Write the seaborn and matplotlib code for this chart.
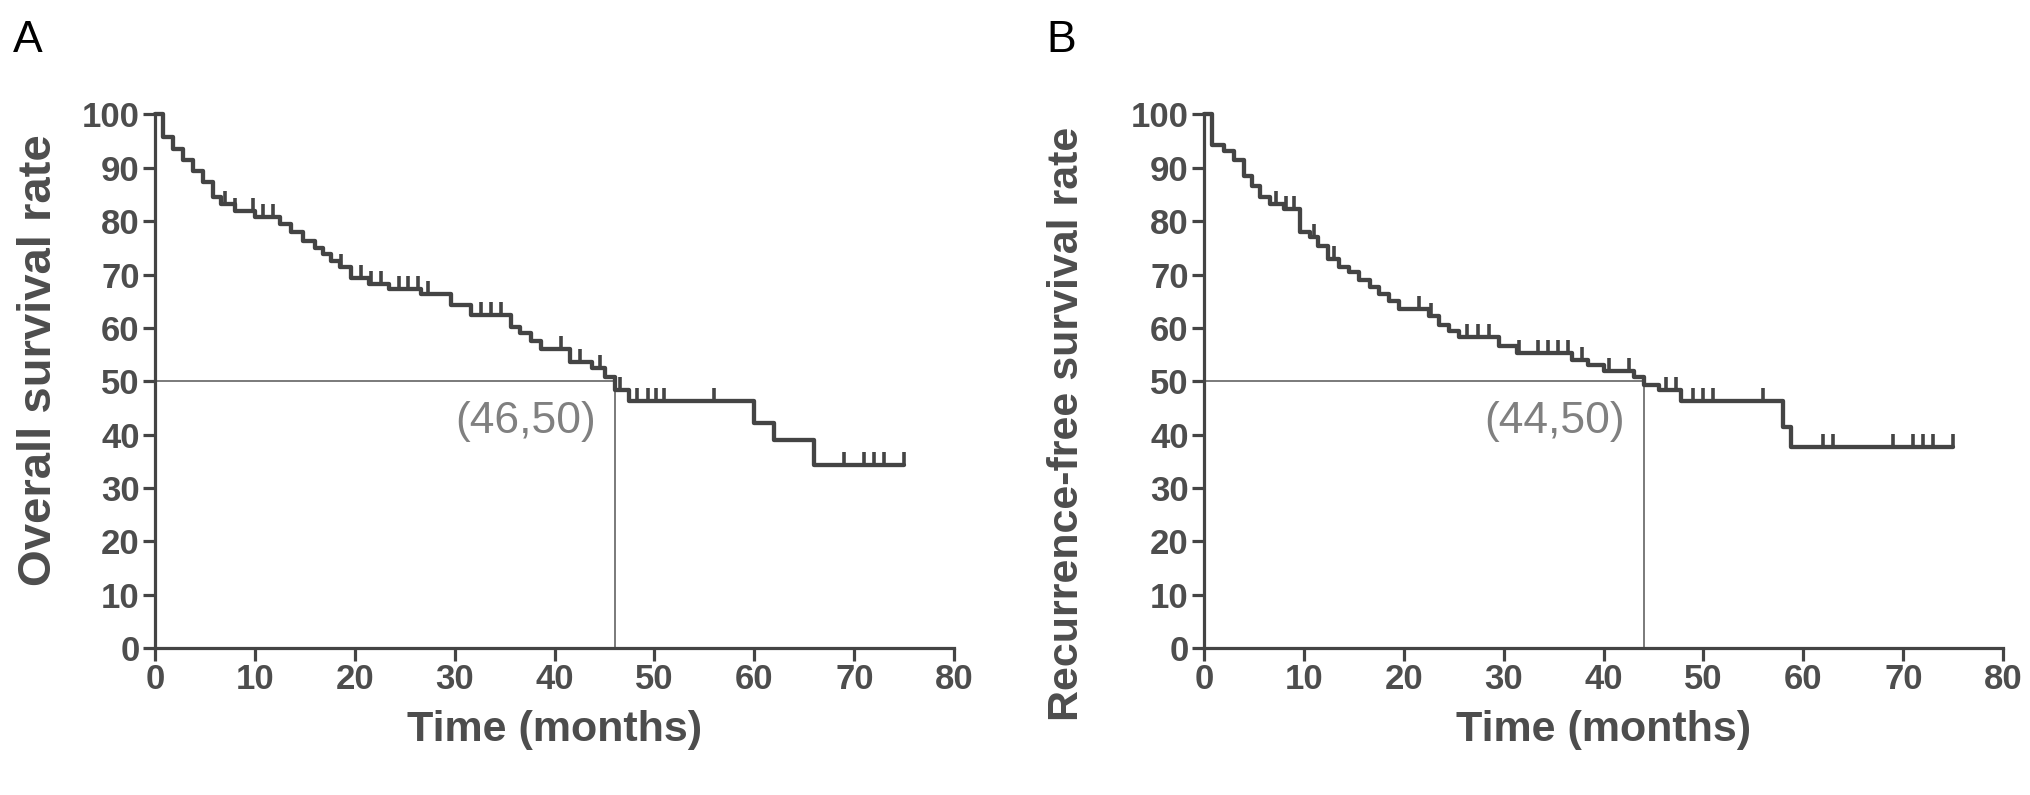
import numpy as np
import pandas as pd
import matplotlib
matplotlib.use("Agg")
import matplotlib.pyplot as plt
import seaborn as sns

# Panel A - overall survival (step values)
a_time = [0, 0.8, 1.8, 2.8, 3.8, 4.8, 5.8, 6.6, 8.0, 10.0, 12.5, 13.6, 14.8, 16.0,
          16.8, 17.6, 18.5, 19.6, 21.4, 23.4, 26.6, 29.6, 31.6, 35.6, 36.5, 37.6,
          38.6, 41.5, 43.7, 45.0, 46.0, 47.5, 60.0, 62.0, 66.0]
a_surv = [100, 95.8, 93.6, 91.4, 89.4, 87.3, 84.6, 83.3, 82.0, 80.8, 79.5, 78.0, 76.3,
          75.0, 73.8, 72.6, 71.4, 69.4, 68.2, 67.3, 66.3, 64.3, 62.4, 60.2, 59.0, 57.6,
          56.0, 53.6, 52.5, 50.8, 48.4, 46.2, 42.2, 39.0, 34.2]
a_censor = [7.0, 8.0, 9.8, 10.8, 11.8, 18.6, 20.6, 21.6, 22.6, 24.4, 25.3, 26.3, 27.3,
            32.6, 33.6, 34.6, 40.6, 42.5, 44.5, 46.6, 48.3, 49.4, 50.2, 51.0, 56.0,
            69.0, 71.0, 72.0, 73.0, 75.0]
a_median = 46

# Panel B - recurrence-free survival
b_time = [0, 0.8, 2.0, 3.0, 4.0, 4.8, 5.6, 6.6, 8.0, 9.6, 10.6, 11.4, 12.4, 13.5, 14.5,
          15.5, 16.6, 17.5, 18.5, 19.5, 22.5, 23.5, 24.5, 25.5, 29.5, 31.3, 36.8, 38.4,
          40.0, 43.0, 44.0, 45.5, 47.8, 58.0, 58.8]
b_surv = [100, 94.3, 93.2, 91.5, 88.5, 86.5, 84.5, 83.3, 82.2, 78.0, 77.0, 75.3, 73.0,
          71.5, 70.4, 69.0, 67.7, 66.4, 65.0, 63.5, 62.2, 60.6, 59.4, 58.2, 56.6, 55.2,
          54.0, 53.0, 52.0, 50.8, 49.2, 48.3, 46.2, 41.5, 37.6]
b_censor = [7.2, 8.2, 9.0, 11.0, 13.0, 21.5, 22.7, 26.3, 27.4, 28.5, 31.5, 33.4, 34.4,
            35.4, 36.4, 37.8, 40.5, 42.5, 46.2, 47.2, 49.0, 50.0, 51.0, 56.0, 62.0, 63.0,
            69.0, 71.0, 72.0, 73.0, 75.0]
b_median = 44

end_time = 75
x_ticks = list(range(0, 90, 10))
y_ticks = list(range(0, 110, 10))

sns.set_style("ticks")
plt.rcParams["font.family"] = ["Liberation Sans", "DejaVu Sans"]

GREY = "#4d4d4d"
LINE = "#444444"


def surv_at(times, surv, t):
    idx = np.searchsorted(times, t, side="right") - 1
    return np.asarray(surv)[idx]


def km_panel(ax, times, surv, censor, median, ylabel, letter, note, ylab_size,
             ylab_pos, letter_x):
    df = pd.DataFrame({"t": list(times) + [end_time], "s": list(surv) + [surv[-1]]})
    sns.lineplot(data=df, x="t", y="s", ax=ax, drawstyle="steps-post", estimator=None,
                 sort=False, color=LINE, lw=3.1, clip_on=False)
    cs = surv_at(times, surv, censor)
    ax.plot(censor, cs, linestyle="none", marker=[(0, 0), (0, 1)], markersize=19,
            mew=2.6, color=LINE, clip_on=False)
    # median reference lines
    ax.plot([0, median], [50, 50], color="#7a7a7a", lw=1.4, zorder=1)
    ax.plot([median, median], [0, 50], color="#7a7a7a", lw=1.4, zorder=1)
    ax.text(median - 1.9, 42.5, note, ha="right", va="center", fontsize=32,
            color="#808080")

    ax.set_xlim(0, 80)
    ax.set_ylim(0, 100)
    ax.set_xticks(x_ticks)
    ax.set_yticks(y_ticks)
    ax.tick_params(axis="both", length=9, width=2.3, color=LINE, labelsize=25,
                   labelcolor=GREY, pad=2)
    for lab in ax.get_xticklabels() + ax.get_yticklabels():
        lab.set_fontweight("bold")
    for side in ["left", "bottom"]:
        ax.spines[side].set_linewidth(2.3)
        ax.spines[side].set_color(LINE)
    sns.despine(ax=ax)
    ax.set_xlabel("Time (months)", fontsize=31, fontweight="bold", color=GREY,
                  labelpad=10)
    ax.set_ylabel(ylabel, fontsize=ylab_size, fontweight="bold", color=GREY)
    ax.yaxis.label.set_rotation_mode("default")
    ax.yaxis.label.set_va("center")
    ax.yaxis.set_label_coords(*ylab_pos)
    ax.text(letter_x, 1.10, letter, transform=ax.transAxes, fontsize=32, color="black",
            ha="left", va="bottom")


fig = plt.figure(figsize=(20.31, 7.95), dpi=100)
ax1 = fig.add_axes([0.0763, 0.185, 0.3935, 0.671])
ax2 = fig.add_axes([0.5928, 0.185, 0.3935, 0.671])

km_panel(ax1, a_time, a_surv, a_censor, a_median, "Overall survival rate", "A",
         "(46,50)", 34, (-0.145, 0.54), -0.178)
km_panel(ax2, b_time, b_surv, b_censor, b_median, "Recurrence-free survival rate", "B",
         "(44,50)", 31, (-0.172, 0.42), -0.197)

fig.savefig("out.png", dpi=100, facecolor="white")
